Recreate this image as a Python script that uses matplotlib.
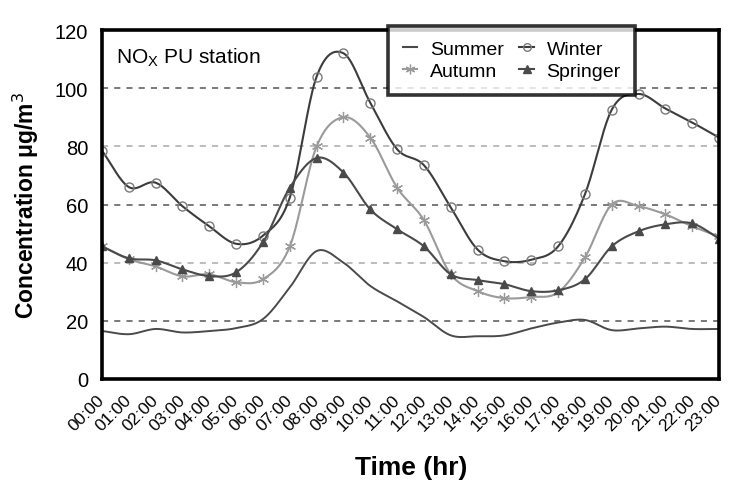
import numpy as np
import matplotlib
matplotlib.use('Agg')
import matplotlib.pyplot as plt
import matplotlib.transforms as mtransforms
from matplotlib.lines import Line2D

plt.rcParams['font.family'] = ['Liberation Sans', 'DejaVu Sans']

hours = [f'{h:02d}:00' for h in range(24)]
summer = [16.5, 15.4, 17.2, 16.0, 16.5, 17.5, 20.6, 31.5, 44.0, 40.0, 32.0, 26.7,
          21.3, 15.0, 14.7, 15.0, 17.4, 19.4, 20.3, 16.8, 17.4, 18.0, 17.2, 17.2]
winter = [78.5, 66.0, 67.5, 59.4, 52.5, 46.5, 49.3, 62.4, 104.0, 112.0, 95.0, 79.0,
          73.5, 59.0, 44.5, 40.5, 41.0, 45.6, 63.5, 92.6, 98.0, 93.0, 88.2, 83.0]
autumn = [45.6, 41.2, 38.7, 35.3, 36.0, 33.3, 34.3, 45.6, 80.0, 90.0, 83.0, 65.8,
          54.6, 36.0, 30.2, 27.8, 28.2, 29.8, 41.8, 60.0, 59.4, 56.6, 52.5, 49.0]
springer = [45.6, 41.5, 40.8, 37.7, 35.4, 36.7, 47.0, 65.8, 76.0, 71.0, 58.3, 51.5,
            45.6, 36.0, 34.0, 32.6, 30.2, 30.5, 34.3, 45.6, 50.8, 53.2, 53.5, 48.3]


def smooth(y, n=20):
    # Catmull-Rom curve through the hourly values (spreadsheet-style smoothing)
    y = np.asarray(y, dtype=float)
    x = np.arange(len(y), dtype=float)
    p = np.concatenate([[2 * y[0] - y[1]], y, [2 * y[-1] - y[-2]]])
    xs, ys = [], []
    t = np.linspace(0, 1, n, endpoint=False)
    for i in range(len(y) - 1):
        p0, p1, p2, p3 = p[i], p[i + 1], p[i + 2], p[i + 3]
        seg = 0.5 * (2 * p1 + (-p0 + p2) * t + (2 * p0 - 5 * p1 + 4 * p2 - p3) * t ** 2
                     + (-p0 + 3 * p1 - 3 * p2 + p3) * t ** 3)
        xs.append(x[i] + t)
        ys.append(seg)
    xs.append([x[-1]])
    ys.append([y[-1]])
    return np.concatenate(xs), np.concatenate(ys)


fig = plt.figure(figsize=(7.36, 4.81), dpi=100)
ax = fig.add_axes([0.1386, 0.21, 0.8384, 0.7255])
x = np.arange(24)

c_sum, c_win, c_aut, c_spr = '#4a4a4a', '#3c3c3c', '#9a9a9a', '#4a4a4a'

sx, sy = smooth(summer)
ax.plot(sx, sy, color=c_sum, lw=1.4)

wx, wy = smooth(winter)
ax.plot(wx, wy, color=c_win, lw=1.5)
ax.plot(x, winter, ls='none', marker='o', ms=6.5, mfc='none', mec='#7a7a7a', mew=1.0)

ax_, ay = smooth(autumn)
ax.plot(ax_, ay, color=c_aut, lw=1.5)
ax.plot(x, autumn, ls='none', marker=(6, 2, 0), ms=8, mec=c_aut, mew=0.9)

px, py = smooth(springer)
ax.plot(px, py, color=c_spr, lw=1.5)
ax.plot(x, springer, ls='none', marker='^', ms=6, mfc=c_spr, mec=c_spr)

for v, col in zip([20, 40, 60, 80, 100], ['#555555', '#aaaaaa', '#555555', '#aaaaaa', '#555555']):
    ax.axhline(v, color=col, ls=(0, (4, 4)), lw=1.1, zorder=0)

ax.set_xlim(0, 23)
ax.set_ylim(0, 120)
ax.set_yticks([0, 20, 40, 60, 80, 100, 120])
ax.set_xticks(x)
ax.set_xticklabels(hours, rotation=45, ha='right', va='center', rotation_mode='anchor',
                   fontsize=12.5)
shift = mtransforms.ScaledTranslation(10 / 100, 0, fig.dpi_scale_trans)
for lab in ax.get_xticklabels():
    lab.set_transform(lab.get_transform() + shift)
ax.tick_params(axis='y', length=0, labelsize=14.5, pad=10)
ax.tick_params(axis='x', length=0, pad=13)
for s in ax.spines.values():
    s.set_linewidth(2.6)
    s.set_color('black')

ax.set_ylabel('Concentration μg/m$^3$', fontsize=16.5, fontweight='bold', labelpad=10)
fig.text(0.558, 0.028, 'Time (hr)', fontsize=19, fontweight='bold', ha='center', va='center')

ax.text(0.022, 0.955, 'NO$_\\mathregular{X}$ PU station', transform=ax.transAxes,
        fontsize=15, va='top', ha='left')

handles = [
    Line2D([], [], color=c_sum, lw=1.5),
    Line2D([], [], color=c_aut, lw=1.5, marker=(6, 2, 0), ms=7, mew=0.9),
    Line2D([], [], color=c_win, lw=1.5, marker='o', ms=5.5, mfc='none', mec='#7a7a7a'),
    Line2D([], [], color=c_spr, lw=1.5, marker='^', ms=5.5),
]
leg = fig.legend(handles, ['Summer', 'Autumn', 'Winter', 'Springer'], ncol=2,
                 loc='upper left', bbox_to_anchor=(388 / 736, 1 - 27 / 481),
                 fontsize=14, frameon=True, fancybox=False, handlelength=0.75,
                 handletextpad=0.65, columnspacing=0.8, borderpad=0.75,
                 labelspacing=0.22, borderaxespad=0)
leg.get_frame().set_edgecolor('black')
leg.get_frame().set_linewidth(2.6)
leg.set_zorder(10)

fig.savefig('out.png', dpi=100)
